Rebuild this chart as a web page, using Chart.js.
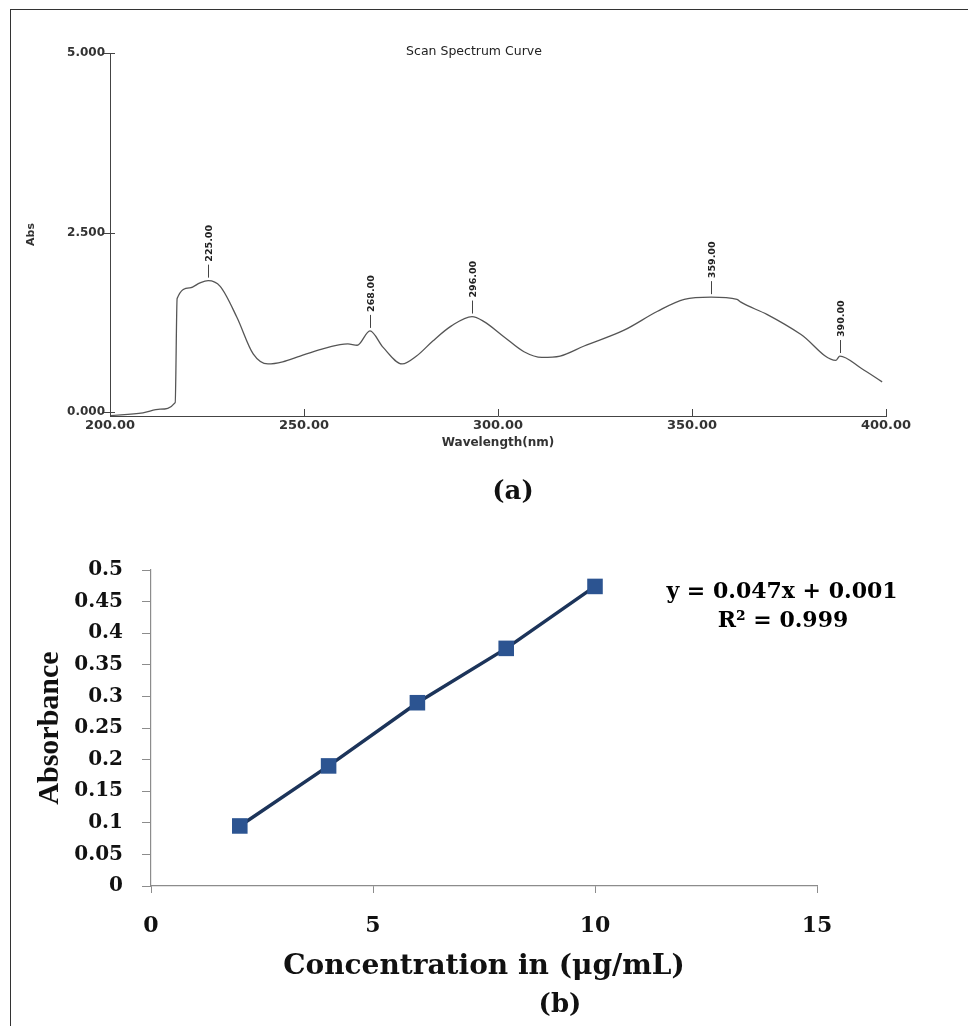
<!DOCTYPE html>
<html>
<head>
<meta charset="utf-8">
<script src="https://cdn.jsdelivr.net/npm/chart.js@4.4.1/dist/chart.umd.min.js"></script>
<style>
  body { margin: 0; background: #fff; }
  #page { position: relative; width: 968px; height: 1026px; overflow: hidden; }
  #frame { position: absolute; left: 10px; top: 9px; right: -2px; bottom: -2px; border-left: 1px solid #333; border-top: 1px solid #333; }
  canvas { position: absolute; left: 0; }
  .cap { position: absolute; font: bold 26px "DejaVu Serif", serif; color: #111; transform: translate(-50%, -50%); }
</style>
</head>
<body>
<div id="page">
  <div id="frame"></div>
  <canvas id="spectrum" width="968" height="470" style="top:0"></canvas>
  <canvas id="calib" width="968" height="556" style="top:470px"></canvas>
  <div class="cap" style="left:513px;top:490px">(a)</div>
  <div class="cap" style="left:560px;top:1003px">(b)</div>
</div>
<script>
// (a) scan spectrum
var wavelength = [200, 208.5, 212.9, 216.8, 217.3, 220.6, 223.2, 225.3, 228.4, 232.7, 236.9, 240.7, 244.5, 249, 254.1, 259.3, 261.3, 263.7, 267, 270.4, 275.3, 279, 283.2, 288, 293.3, 296.4, 301.5, 306.7, 311.3, 316, 322.2, 332.5, 341, 348, 354.9, 361.6, 362.6, 369.3, 378.1, 387.1, 388.1, 393.6, 399];
var absorbance = [-0.05, -0.01, 0.04, 0.13, 1.58, 1.73, 1.80, 1.83, 1.75, 1.32, 0.81, 0.67, 0.70, 0.78, 0.87, 0.94, 0.95, 0.93, 1.13, 0.90, 0.67, 0.78, 0.99, 1.20, 1.33, 1.26, 1.05, 0.84, 0.76, 0.78, 0.92, 1.14, 1.40, 1.57, 1.60, 1.57, 1.53, 1.36, 1.08, 0.72, 0.78, 0.61, 0.42];
var peakNm = [225, 268, 296, 359, 390];
var peakLabels = ['225.00', '268.00', '296.00', '359.00', '390.00'];
var nmTicks = [200, 250, 300, 350, 400];
var absTicksA = [0, 2.5, 5];

// (b) calibration curve
var concentration = [2, 4, 6, 8, 10];
var absorbanceB = [0.095, 0.19, 0.29, 0.376, 0.474];
var concTicks = [0, 5, 10, 15];
var absTicksB = [0, 0.05, 0.1, 0.15, 0.2, 0.25, 0.3, 0.35, 0.4, 0.45, 0.5];
var equation = 'y = 0.047x + 0.001';
var rSquared = 'R\u00b2 = 0.999';

var sans = '"DejaVu Sans", sans-serif';
var serif = '"DejaVu Serif", serif';

function findPeak(nm) {
    var best = -1;
    for (var i = 0; i < wavelength.length; i++) {
        if (wavelength[i] >= nm - 8 && wavelength[i] <= nm + 3) {
            if (best < 0 || absorbance[i] > absorbance[best]) best = i;
        }
    }
    return best;
}

var spectrumExtras = {
    id: 'spectrumExtras',
    afterDraw: function(chart) {
        var ctx = chart.ctx, x = chart.scales.x, y = chart.scales.y;
        ctx.save();
        ctx.strokeStyle = '#444';
        ctx.lineWidth = 1;
        // tick marks drawn inside the frame
        x.ticks.forEach(function(t) {
            var px = Math.round(x.getPixelForValue(t.value)) + 0.5;
            ctx.beginPath(); ctx.moveTo(px, x.top); ctx.lineTo(px, x.top - 7); ctx.stroke();
        });
        y.ticks.forEach(function(t) {
            var py = Math.round(y.getPixelForValue(t.value)) + 0.5;
            ctx.beginPath(); ctx.moveTo(y.right - 6, py); ctx.lineTo(y.right + 5, py); ctx.stroke();
        });
        // peak markers
        ctx.fillStyle = '#222';
        ctx.font = 'bold 9.5px ' + sans;
        peakNm.forEach(function(nm, k) {
            var i = findPeak(nm);
            var px = Math.round(x.getPixelForValue(wavelength[i])) + 0.5;
            var py = y.getPixelForValue(absorbance[i]);
            ctx.beginPath(); ctx.moveTo(px, py - 3); ctx.lineTo(px, py - 16); ctx.stroke();
            ctx.save();
            ctx.translate(px + 1, py - 19);
            ctx.rotate(-Math.PI / 2);
            ctx.textAlign = 'left';
            ctx.textBaseline = 'middle';
            ctx.fillText(peakLabels[k], 0, 0);
            ctx.restore();
        });
        ctx.font = '12.5px ' + sans;
        ctx.textAlign = 'center';
        ctx.textBaseline = 'middle';
        ctx.fillText('Scan Spectrum Curve', 474, 52);
        ctx.restore();
    }
};

new Chart(document.getElementById('spectrum'), {
    type: 'scatter',
    data: {
        datasets: [{
            data: wavelength.map(function(w, i) { return {x: w, y: absorbance[i]}; }),
            showLine: true,
            borderColor: '#555',
            borderWidth: 1.3,
            pointRadius: 0,
            cubicInterpolationMode: 'monotone'
        }]
    },
    options: {
        responsive: false,
        animation: false,
        layout: {padding: {left: 0, right: 82, top: 53, bottom: 10}},
        plugins: {legend: {display: false}, tooltip: {enabled: false}},
        scales: {
            x: {
                type: 'linear', min: 200, max: 400,
                afterBuildTicks: function(s) { s.ticks = nmTicks.map(function(v) { return {value: v}; }); },
                afterFit: function(s) { s.height = 44; },
                grid: {display: false, drawTicks: false},
                border: {color: '#444', width: 1},
                ticks: {
                    padding: 2, color: '#333', maxRotation: 0,
                    font: {family: sans, size: 13, weight: 'bold'},
                    callback: function(v) { return v.toFixed(2); }
                },
                title: {display: true, text: 'Wavelength(nm)', color: '#333',
                    font: {family: sans, size: 12, weight: 'bold'}, padding: {top: 0, bottom: 10}}
            },
            y: {
                min: -0.055, max: 5,
                afterBuildTicks: function(s) { s.ticks = absTicksA.map(function(v) { return {value: v}; }); },
                afterFit: function(s) { s.width = 110; },
                grid: {display: false, drawTicks: false},
                border: {color: '#444', width: 1},
                ticks: {
                    padding: 5, color: '#333',
                    font: {family: sans, size: 12, weight: 'bold'},
                    callback: function(v) { return v.toFixed(3); }
                },
                title: {display: true, text: 'Abs', color: '#333',
                    font: {family: sans, size: 11, weight: 'bold'}, padding: {top: 25, bottom: 0}}
            }
        }
    },
    plugins: [spectrumExtras]
});

var calibExtras = {
    id: 'calibExtras',
    afterDraw: function(chart) {
        var ctx = chart.ctx;
        ctx.save();
        ctx.fillStyle = '#000';
        ctx.font = 'bold 22px ' + serif;
        ctx.textAlign = 'center';
        ctx.textBaseline = 'middle';
        ctx.fillText(equation, 782, 122);
        ctx.fillText(rSquared, 783, 151);
        ctx.restore();
    }
};

new Chart(document.getElementById('calib'), {
    type: 'scatter',
    data: {
        datasets: [{
            data: concentration.map(function(c, i) { return {x: c, y: absorbanceB[i]}; }),
            showLine: true,
            borderColor: '#1c345a',
            borderWidth: 3.5,
            pointStyle: 'rect',
            pointRadius: 11,
            pointBackgroundColor: '#2c5491',
            pointBorderColor: '#2c5491',
            pointBorderWidth: 0
        }]
    },
    options: {
        responsive: false,
        animation: false,
        layout: {padding: {left: 0, right: 151, top: 100, bottom: 30}},
        plugins: {legend: {display: false}, tooltip: {enabled: false}},
        scales: {
            x: {
                type: 'linear', min: 0, max: 15,
                afterBuildTicks: function(s) { s.ticks = concTicks.map(function(v) { return {value: v}; }); },
                afterFit: function(s) { s.height = 110; },
                grid: {display: true, drawOnChartArea: false, drawTicks: true, tickLength: 7, color: '#8c8c8c'},
                border: {color: '#8c8c8c', width: 1.2},
                ticks: {
                    padding: 20, color: '#111', maxRotation: 0,
                    font: {family: serif, size: 22, weight: 'bold'}
                },
                title: {display: true, text: 'Concentration in (\u03bcg/mL)', color: '#111',
                    font: {family: serif, size: 28, weight: 'bold'}, padding: {top: 0, bottom: 12}}
            },
            y: {
                min: 0, max: 0.5,
                afterBuildTicks: function(s) { s.ticks = absTicksB.map(function(v) { return {value: v}; }); },
                afterFit: function(s) { s.width = 151; },
                grid: {display: true, drawOnChartArea: false, drawTicks: true, tickLength: 9, color: '#8c8c8c'},
                border: {color: '#8c8c8c', width: 1.2},
                ticks: {
                    padding: 19, color: '#111', autoSkip: false,
                    font: {family: serif, size: 20, weight: 'bold'},
                    callback: function(v) { return String(+v.toFixed(2)); }
                },
                title: {display: true, text: 'Absorbance', color: '#111',
                    font: {family: '"Liberation Serif", serif', size: 30, weight: 'bold'}, padding: {top: 32, bottom: 0}}
            }
        }
    },
    plugins: [calibExtras]
});
</script>
</body>
</html>
